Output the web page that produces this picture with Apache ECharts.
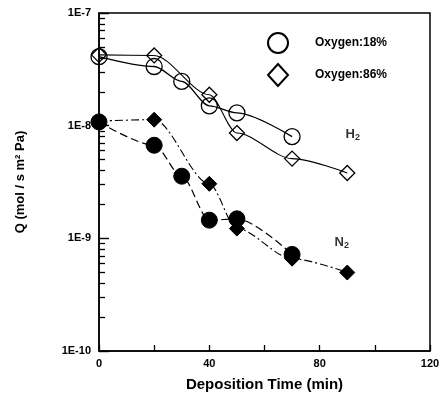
<!DOCTYPE html>
<html><head><meta charset="utf-8">
<script src="https://cdn.jsdelivr.net/npm/echarts@6/dist/echarts.min.js"></script>
<style>html,body{margin:0;padding:0;background:#fff}#c{width:447px;height:402px}</style>
</head><body><div id="c"></div>
<script>
// Data
const timeH2_18 = [0, 20, 30, 40, 50, 70];
const qH2_18    = [4.1e-8, 3.35e-8, 2.47e-8, 1.5e-8, 1.3e-8, 8.0e-9];
const timeH2_86 = [0, 20, 40, 50, 70, 90];
const qH2_86    = [4.25e-8, 4.2e-8, 1.88e-8, 8.6e-9, 5.1e-9, 3.8e-9];
const timeN2_18 = [0, 20, 30, 40, 50, 70];
const qN2_18    = [1.08e-8, 6.7e-9, 3.56e-9, 1.45e-9, 1.49e-9, 7.2e-10];
const timeN2_86 = [0, 20, 40, 50, 70, 90];
const qN2_86    = [1.1e-8, 1.13e-8, 3.05e-9, 1.22e-9, 6.6e-10, 4.97e-10];
const xTickLabels = [0, 40, 80, 120];
const yTickLabels = ['1E-10', '1E-9', '1E-8', '1E-7'];
const legendNames = ['Oxygen:18%', 'Oxygen:86%'];
const gasNames = ['H', 'N'];
const gasX = [92, 88];
const gasY = [8.3e-9, 9.2e-10];

const pair = (xs, ys) => xs.map((x, i) => [x, ys[i]]);
const FONT = 'Liberation Sans, Arial, sans-serif';
const minorVals = [];
for (let d = -10; d < -7; d++) for (let k = 2; k <= 9; k++) minorVals.push(d + Math.log10(k));

const openStyle = {color: 'rgba(255,255,255,0)', borderColor: '#000', borderWidth: 1.3, opacity: 1};
const fillStyle = {color: '#000', borderColor: '#000', borderWidth: 1, opacity: 1};

function curve(name, xs, ys, type, width) {
  return {name: name, type: 'line', data: pair(xs, ys), smooth: 0.3, smoothMonotone: 'x',
    showSymbol: false, symbol: 'none',
    lineStyle: {color: '#000', width: width, type: type}, z: 2, silent: true};
}
function marks(name, xs, ys, symbol, style, size) {
  return {name: name, type: 'scatter', data: pair(xs, ys), symbol: symbol, symbolSize: size,
    itemStyle: style, z: 3};
}

const chart = echarts.init(document.getElementById('c'), null, {renderer: 'canvas'});
chart.setOption({
  animation: false,
  backgroundColor: '#fff',
  grid: {left: 99, right: 17, top: 13, bottom: 51, show: true, borderColor: '#000', borderWidth: 1.5},
  legend: {
    data: legendNames, orient: 'vertical', left: 262, top: 27, itemGap: 9,
    itemWidth: 20, itemHeight: 22,
    textStyle: {fontFamily: FONT, fontWeight: 'bold', fontSize: 12, color: '#000', padding: [0, 0, 0, 22]},
    selectedMode: false
  },
  xAxis: {
    type: 'value', min: 0, max: 120, interval: 20,
    axisLine: {lineStyle: {color: '#000', width: 1.5}},
    axisTick: {inside: true, length: 6, lineStyle: {color: '#000', width: 1.3}},
    splitLine: {show: false},
    axisLabel: {margin: 7, color: '#000', fontFamily: FONT, fontWeight: 'bold', fontSize: 11,
      formatter: v => xTickLabels.indexOf(v) >= 0 ? String(v) : ''},
    name: 'Deposition Time (min)', nameLocation: 'middle', nameGap: 26,
    nameTextStyle: {fontFamily: FONT, fontWeight: 'bold', fontSize: 15, color: '#000'}
  },
  yAxis: [{
    type: 'log', logBase: 10, min: 1e-10, max: 1e-7,
    axisLine: {lineStyle: {color: '#000', width: 1.5}},
    axisTick: {inside: true, length: 10, lineStyle: {color: '#000', width: 1.4}},
    splitLine: {show: false}, minorTick: {show: false},
    axisLabel: {margin: 8, color: '#000', fontFamily: FONT, fontWeight: 'bold', fontSize: 11,
      formatter: v => yTickLabels[Math.round(Math.log10(v)) + 10]},
    name: 'Q (mol / s m\u00b2 Pa)', nameLocation: 'middle', nameGap: 72, nameRotate: 90,
    nameTextStyle: {fontFamily: FONT, fontWeight: 'bold', fontSize: 13, color: '#000'}
  }, {
    type: 'value', min: -10, max: -7, position: 'left', offset: 0,
    axisLine: {show: false}, splitLine: {show: false}, axisLabel: {show: false},
    axisTick: {show: true, inside: true, length: 6, customValues: minorVals,
      lineStyle: {color: '#000', width: 1.3}}
  }],
  series: [
    curve('c1', timeH2_18, qH2_18, 'solid', 1.3),
    curve('c2', timeH2_86, qH2_86, 'solid', 1.1),
    curve('c3', timeN2_18, qN2_18, [8, 4], 1.2),
    curve('c4', timeN2_86, qN2_86, [8, 3, 2, 3], 1.1),
    marks(legendNames[0], timeH2_18, qH2_18, 'circle', openStyle, 16),
    marks(legendNames[1], timeH2_86, qH2_86, 'diamond', openStyle, 15),
    marks(legendNames[0], timeN2_18, qN2_18, 'circle', fillStyle, 16),
    marks(legendNames[1], timeN2_86, qN2_86, 'diamond', fillStyle, 15),
    {
      name: 'gas', type: 'scatter', symbolSize: 0, silent: true,
      data: gasNames.map((g, i) => ({value: [gasX[i], gasY[i]], gas: g})),
      label: {show: true, position: 'inside', color: '#000',
        formatter: p => '{a|' + p.data.gas + '}{b|2}',
        rich: {a: {fontFamily: FONT, fontWeight: 'bold', fontSize: 13, color: '#000'},
               b: {fontFamily: FONT, fontWeight: 'bold', fontSize: 9, color: '#000', padding: [6, 0, 0, 0]}}}
    }
  ]
});
</script></body></html>
